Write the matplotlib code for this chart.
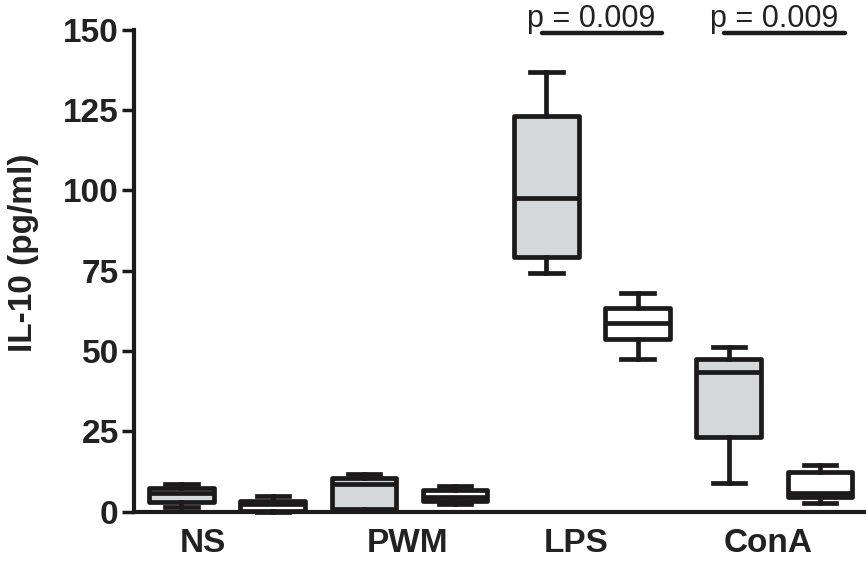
import numpy as np
import matplotlib.pyplot as plt

plt.rcParams['font.family'] = ['Liberation Sans', 'DejaVu Sans']

groups = ['NS', 'PWM', 'LPS', 'ConA']
# each group has a grey box followed by a white box
whislo = [1.5, 0.0, 0.1, 2.4, 74.3, 47.4, 9.0, 2.7]
q1 = [3.0, 0.3, 0.8, 3.2, 79.3, 53.6, 23.1, 4.7]
med = [5.7, 2.3, 8.7, 4.7, 97.7, 58.6, 43.5, 5.7]
q3 = [7.4, 3.4, 10.4, 6.8, 123.2, 63.3, 47.5, 12.4]
whishi = [8.6, 5.0, 11.6, 8.1, 136.8, 68.1, 51.1, 14.4]
fills = ['#d5d8db', 'white'] * 4

p_pairs = [(4, 5), (6, 7)]
p_labels = ['p = 0.009', 'p = 0.009']
group_label_x = [1.23, 3.48, 5.33, 7.43]

ink = '#1c1a1b'
positions = np.arange(1, len(med) + 1)

stats = [dict(whislo=a, q1=b, med=c, q3=d, whishi=e, fliers=[])
         for a, b, c, d, e in zip(whislo, q1, med, q3, whishi)]

fig = plt.figure(figsize=(8.66, 5.63), dpi=100)
ax = fig.add_axes([0.1547, 0.0911, 0.8453, 0.8565])

lw = 3.4
bp = ax.bxp(stats, positions=positions, widths=0.71, patch_artist=True,
            showfliers=False,
            boxprops=dict(linewidth=lw, edgecolor=ink),
            medianprops=dict(linewidth=lw, color=ink),
            whiskerprops=dict(linewidth=lw, color=ink),
            capprops=dict(linewidth=lw, color=ink))
for patch, c in zip(bp['boxes'], fills):
    patch.set_facecolor(c)
    patch.set_joinstyle('round')
for key in ('boxes', 'medians', 'whiskers', 'caps'):
    for art in bp[key]:
        art.set_clip_on(False)

# significance bars between grey and white boxes
for (i, j), lab in zip(p_pairs, p_labels):
    x0 = positions[i] - 0.05
    x1 = positions[j] + 0.27
    ax.plot([x0, x1], [148.9, 148.9], color=ink, lw=3.2,
            solid_capstyle='round', clip_on=False)
    ax.text(positions[i] - 0.21, 150.9, lab, fontsize=22, ha='left',
            va='baseline', color='#222222', clip_on=False)

ax.set_xlim(0.479, 8.505)
ax.set_ylim(0, 150)
ax.set_yticks(np.arange(0, 151, 25))
ax.set_xticks(group_label_x)
ax.set_xticklabels(groups)

ax.spines['top'].set_visible(False)
ax.spines['right'].set_visible(False)
for s in ('left', 'bottom'):
    ax.spines[s].set_linewidth(3)
    ax.spines[s].set_color(ink)

ax.tick_params(axis='y', length=9, width=2.5, color=ink, pad=2,
               labelsize=24)
ax.tick_params(axis='x', length=0, pad=12, labelsize=24)
for t in ax.get_xticklabels() + ax.get_yticklabels():
    t.set_fontweight('bold')
    t.set_color('#222222')

ax.set_ylabel('IL-10 (pg/ml)', fontsize=24, fontweight='bold',
              color='#222222')
ax.yaxis.set_label_coords(-0.13, 0.536)

fig.savefig('out.png', dpi=100)
